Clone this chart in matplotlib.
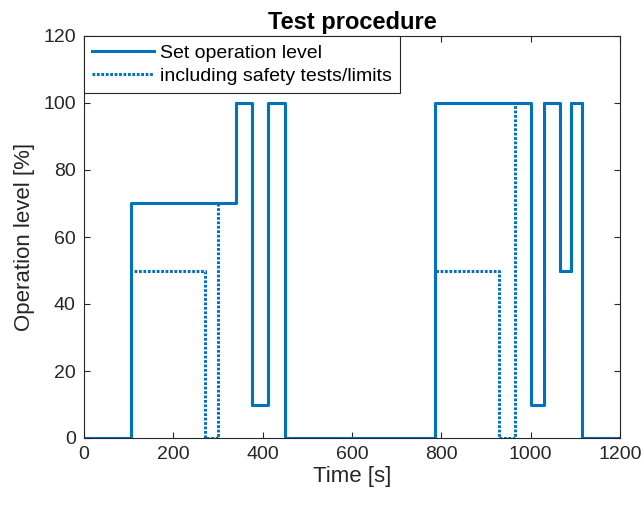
import matplotlib
matplotlib.use("Agg")
import matplotlib.pyplot as plt

# Sollwert (Stufen, steps-post)
t_set = [0, 105, 340, 377, 413, 450, 785, 1000, 1030, 1065, 1090, 1115, 1200]
lvl_set = [0, 70, 100, 10, 100, 0, 100, 10, 100, 50, 100, 0, 0]

# inkl. Sicherheitstests/Grenzen
t_safe = [0, 105, 270, 300, 340, 377, 413, 450, 785, 930, 965, 1000, 1030,
          1065, 1090, 1115, 1200]
lvl_safe = [0, 50, 0, 70, 100, 10, 100, 0, 50, 0, 100, 10, 100, 50, 100, 0, 0]

x_ticks = [0, 200, 400, 600, 800, 1000, 1200]
y_ticks = [0, 20, 40, 60, 80, 100, 120]

blue = "#0072BD"
dark = "#262626"

plt.rcParams['font.family'] = ['Liberation Sans', 'DejaVu Sans']

fig = plt.figure(figsize=(6.44, 5.07), dpi=100)
ax = fig.add_axes([84 / 644, 69 / 507, 536 / 644, 402 / 507])

ax.plot(t_set, lvl_set, drawstyle='steps-post', color=blue, lw=2.2,
        label='Set operation level')
ax.plot(t_safe, lvl_safe, drawstyle='steps-post', color=blue, lw=2.2,
        linestyle=(0, (0.9, 0.55)), label='including safety tests/limits')

ax.set_xlim(0, 1200)
ax.set_ylim(0, 120)
ax.set_xticks(x_ticks)
ax.set_yticks(y_ticks)
ax.tick_params(direction='in', length=4, width=0.8, colors=dark,
               labelsize=14, top=True, right=True, pad=6)
for s in ax.spines.values():
    s.set_color(dark)
    s.set_linewidth(0.8)

ax.set_xlabel('Time [s]', fontsize=16, color=dark, labelpad=2)
ax.set_ylabel('Operation level [%]', fontsize=16, color=dark, labelpad=6)
ax.set_title('Test procedure', fontsize=17, fontweight='bold', color='black', pad=5)

leg = ax.legend(loc='upper left', borderaxespad=0, fontsize=14,
                handlelength=3.2, fancybox=False, framealpha=1,
                edgecolor=dark, borderpad=0.42, labelspacing=0.3,
                handletextpad=0.3)
leg.get_frame().set_linewidth(0.8)

fig.savefig('out.png', dpi=100)
